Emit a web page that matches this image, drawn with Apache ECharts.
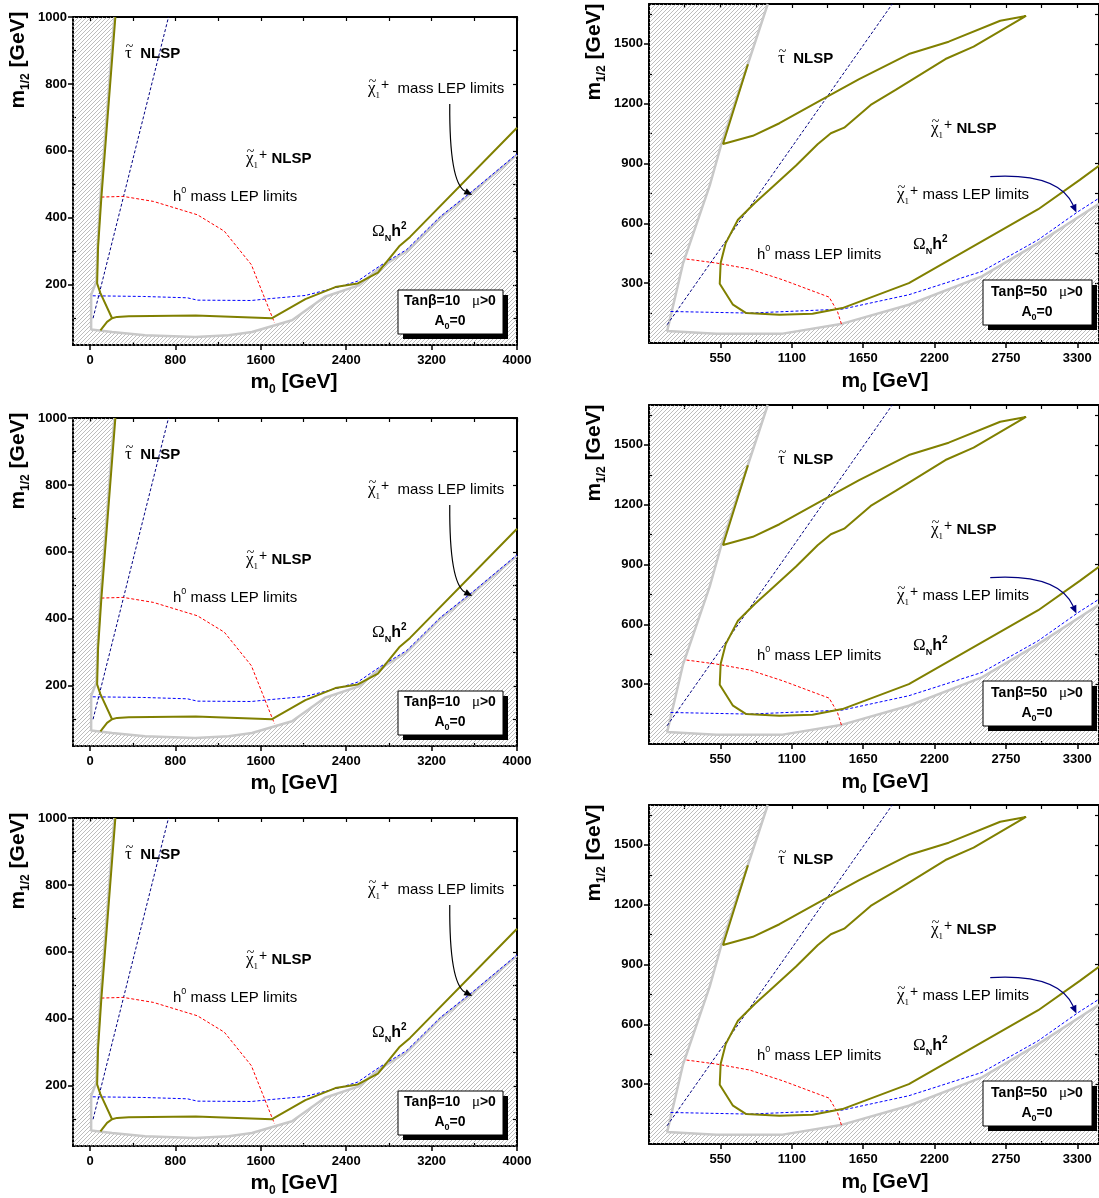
<!DOCTYPE html>
<html><head><meta charset="utf-8">
<script src="https://cdn.jsdelivr.net/npm/echarts@6/dist/echarts.min.js"></script>
<style>html,body{margin:0;padding:0;background:#fff}#c{width:1099px;height:1198px}</style>
</head><body><div id="c"></div>
<script>
// ---------- tick labels ----------
const L_m0_ticks = [0, 800, 1600, 2400, 3200, 4000];
const L_m0_minor = [400, 1200, 2000, 2800, 3600];
const L_m12_ticks = [200, 400, 600, 800, 1000];
const L_m12_minor = [100, 300, 500, 700, 900];
const R_m0_ticks = [550, 1100, 1650, 2200, 2750, 3300];
const R_m0_minor = [275, 825, 1375, 1925, 2475, 3025];
const R_m12_ticks = [300, 600, 900, 1200, 1500];
const R_m12_minor = [150, 450, 750, 1050, 1350, 1650];

// ---------- tanβ=10 (left panels) [m0, m1/2] ----------
const L_excl_boundary = [[228,1000],[97,462],[70,313],[60,210],[10,170],[10,66],[206,59],[515,49],[984,44],[1299,49],[1517,59],[1892,94],[2201,164],[2517,198],[2713,250],[2966,300],[3282,400],[3598,480],[4000,588]];
const L_omega_upper = [[237,1000],[106,462],[75,313],[66,204],[97,175],[206,100]];
const L_omega_lower = [[97,64],[159,89],[206,100],[253,104],[362,106],[378,103],[990,108],[1705,100],[2017,157],[2298,193],[2508,204],[2697,236],[2896,315],[2998,343],[4000,669]];
const L_chargino_lep = [[25,167],[500,165],[911,161],[1006,154],[1511,153],[1701,159],[2017,168],[2334,194],[2508,211],[2713,256],[2966,305],[3282,404],[3598,484],[4000,591]];
const L_stau_line = [[28,100],[735,1000]];
const L_higgs_lep = [[106,462],[310,464],[594,449],[1006,409],[1258,360],[1511,260],[1727,87]];

// ---------- tanβ=50 (right panels) ----------
const R_excl_boundary = [[915,1700],[558,999],[468,790],[263,401],[140,60],[519,47],[1030,47],[1490,97],[2002,192],[2565,334],[2999,501],[3467,698]];
const R_omega = [[762,1398],[570,998],[800,1039],[1005,1102],[1363,1232],[1619,1323],[2002,1449],[2309,1511],[2706,1616],[2905,1640],[2501,1486],[2284,1424],[1900,1269],[1708,1194],[1504,1080],[1401,1052],[1299,997],[1133,890],[928,768],[813,701],[685,618],[591,501],[552,401],[545,297],[647,192],[749,150],[1005,142],[1260,147],[1490,175],[2002,300],[2999,671],[3319,818],[3500,905]];
const R_chargino_lep = [[166,158],[775,150],[1490,170],[2002,242],[2565,359],[2999,518],[3306,659],[3500,740]];
const R_stau_line = [[140,92],[1874,1700]];
const R_higgs_lep = [[289,421],[519,401],[775,371],[1030,317],[1388,230],[1452,158],[1486,88]];

// ---------- helpers ----------
const SANS = '"Liberation Sans", Arial, sans-serif';
const SERIF = '"Liberation Serif", "DejaVu Serif", serif';
const ROW_OFF = [0, 401, 801];
const OLIVE = '#808000', GRAYB = '#c8c8c8', BLUE = '#0000ff', NAVY = '#000080', RED = '#ff0000';

const pc = document.createElement('canvas');
pc.width = 4; pc.height = 4;
(function(){ const c = pc.getContext('2d'); c.strokeStyle = '#a0a0a0'; c.lineWidth = 0.7;
  c.beginPath(); c.moveTo(0,4); c.lineTo(4,0); c.moveTo(-1,1); c.lineTo(1,-1); c.moveTo(3,5); c.lineTo(5,3); c.stroke(); })();
const HATCH = {image: pc, repeat: 'repeat'};

const rich = {
  b: {fontFamily: SANS, fontWeight: 'bold', fontSize: 15, lineHeight: 22, verticalAlign: 'middle', fill: '#000'},
  n: {fontFamily: SANS, fontSize: 15, lineHeight: 22, verticalAlign: 'middle', fill: '#000'},
  g: {fontFamily: SERIF, fontSize: 17, lineHeight: 22, verticalAlign: 'middle', fill: '#000'},
  sub: {fontFamily: SERIF, fontSize: 9, lineHeight: 9, verticalAlign: 'bottom', fill: '#000'},
  subb: {fontFamily: SANS, fontWeight: 'bold', fontSize: 9, lineHeight: 9, verticalAlign: 'bottom', fill: '#000'},
  sup: {fontFamily: SANS, fontSize: 14, lineHeight: 14, verticalAlign: 'top', fill: '#000', padding: [0, 0, 0, 1]},
  supb: {fontFamily: SANS, fontWeight: 'bold', fontSize: 10, lineHeight: 10, verticalAlign: 'top', fill: '#000'},
  supn: {fontFamily: SANS, fontSize: 9, lineHeight: 10, verticalAlign: 'top', fill: '#000'},
  bh: {fontFamily: SANS, fontWeight: 'bold', fontSize: 16, lineHeight: 22, verticalAlign: 'middle', fill: '#000'},
  mu: {fontFamily: SERIF, fontSize: 15, lineHeight: 20, verticalAlign: 'middle', fill: '#000'},
  bx: {fontFamily: SANS, fontWeight: 'bold', fontSize: 14, lineHeight: 20, verticalAlign: 'middle', fill: '#000'},
  T: {fontFamily: SANS, fontWeight: 'bold', fontSize: 21, lineHeight: 28, verticalAlign: 'middle', fill: '#000'},
  Ts: {fontFamily: SANS, fontWeight: 'bold', fontSize: 12, lineHeight: 12, verticalAlign: 'bottom', fill: '#000'},
  tl: {fontFamily: SERIF, fontSize: 14, lineHeight: 14, verticalAlign: 'middle', fill: '#000'}
};

const grids = [], xAxes = [], yAxes = [], series = [], graphics = [];

function txt(x, y, text, align, rot) {
  graphics.push({type: 'text', x, y, rotation: rot || 0, z: 100,
    style: {text, rich, align: align || 'left', textAlign: align || 'left', verticalAlign: 'middle', textVerticalAlign: 'middle'}});
}
function tilde(x, y) {   // tilde accent over a leading Greek letter
  graphics.push({type: 'text', x: x + 4.5, y: y - 7, z: 101,
    style: {text: '{tl|~}', rich, align: 'center', textAlign: 'center', verticalAlign: 'middle', textVerticalAlign: 'middle'}});
}
function box(x, y, w, h) {
  graphics.push({type: 'rect', z: 99, shape: {x: x + 5, y: y + 5, width: w, height: h}, style: {fill: '#000'}});
  graphics.push({type: 'rect', z: 99, shape: {x, y, width: w, height: h}, style: {fill: '#fff', stroke: '#000', lineWidth: 1}});
}

function axisSet(g, isX, min, max, major, minor, dotted) {
  const arr = isX ? xAxes : yAxes;
  const idx = arr.length;
  const pos = isX ? ['bottom', 'top'] : ['left', 'right'];
  arr.push({gridIndex: g, type: 'value', min, max, position: pos[0],
    axisLine: {show: true, onZero: false, lineStyle: {color: '#000', width: 2, type: dotted ? [2, 2] : 'solid'}},
    axisTick: {show: true, inside: false, length: 5, customValues: major, lineStyle: {color: '#000', width: 1.5}},
    axisLabel: {show: true, customValues: major, formatter: v => String(v), margin: isX ? 9 : 6,
      fontFamily: SANS, fontWeight: 'bold', fontSize: 13, color: '#000'},
    splitLine: {show: false}, minorTick: {show: false}});
  arr.push({gridIndex: g, type: 'value', min, max, position: pos[0],
    axisLine: {show: false, onZero: false}, axisLabel: {show: false},
    axisTick: {show: true, inside: true, length: 3, customValues: minor, lineStyle: {color: '#000', width: 1.2}},
    splitLine: {show: false}});
  arr.push({gridIndex: g, type: 'value', min, max, position: pos[1],
    axisLine: {show: true, onZero: false, lineStyle: {color: '#000', width: 2}}, axisLabel: {show: false},
    axisTick: {show: true, inside: true, length: 4, customValues: major.concat(minor), lineStyle: {color: '#000', width: 1.2}},
    splitLine: {show: false}});
  return idx;
}

function lineS(xi, yi, data, color, width, type, z) {
  return {type: 'line', xAxisIndex: xi, yAxisIndex: yi, data, symbol: 'none', showSymbol: false, silent: true,
    animation: false, z: z || 3, lineStyle: {color, width, type: type || 'solid'}};
}
function hatchS(xi, yi, poly) {
  return {type: 'custom', xAxisIndex: xi, yAxisIndex: yi, data: [[1000, 500]], silent: true, z: 1, clip: true,
    renderItem: (p, api) => ({type: 'polygon', shape: {points: poly.map(pt => api.coord(pt))}, style: {fill: HATCH, stroke: null}})};
}
function arrowS(xi, yi, s, c, e, color) {
  return {type: 'custom', xAxisIndex: xi, yAxisIndex: yi, data: [[1000, 500]], silent: true, z: 5, clip: false,
    renderItem: (p, api) => {
      const S = api.coord(s), C = api.coord(c), E = api.coord(e);
      const a = Math.atan2(E[1] - C[1], E[0] - C[0]);
      const L = 8, W = 3.5;
      const bx = E[0] - L * Math.cos(a), by = E[1] - L * Math.sin(a);
      const p1 = [bx + W * Math.sin(a), by - W * Math.cos(a)], p2 = [bx - W * Math.sin(a), by + W * Math.cos(a)];
      return {type: 'group', children: [
        {type: 'bezierCurve', shape: {x1: S[0], y1: S[1], cpx1: C[0], cpy1: C[1], x2: bx, y2: by}, style: {stroke: color, lineWidth: 1.2, fill: null}},
        {type: 'polygon', shape: {points: [E, p1, p2]}, style: {fill: color}}
      ]};
    }};
}

const CHI = '{g|\u03C7}{sub|1}{sup|+}';
const TAU = '{g|\u03C4}';

function leftPanel(row) {
  const o = ROW_OFF[row];
  const g = grids.length;
  grids.push({left: 73, top: 17 + o, width: 444, height: 328});
  const xi = axisSet(g, true, -160, 4000, L_m0_ticks, L_m0_minor, true);
  const yi = axisSet(g, false, 20, 1000, L_m12_ticks, L_m12_minor, true);
  series.push(hatchS(xi, yi, L_excl_boundary.concat([[4000, 20], [-160, 20], [-160, 1000]])));
  series.push(lineS(xi, yi, L_excl_boundary, GRAYB, 2.5, 'solid', 2));
  series.push(lineS(xi, yi, L_chargino_lep, BLUE, 1, [3, 2]));
  series.push(lineS(xi, yi, L_stau_line, NAVY, 1, [3, 2]));
  series.push(lineS(xi, yi, L_higgs_lep, RED, 1, [3, 2]));
  series.push(lineS(xi, yi, L_omega_upper, OLIVE, 2));
  series.push(lineS(xi, yi, L_omega_lower, OLIVE, 2));
  series.push(arrowS(xi, yi, [3370, 740], [3365, 505], [3580, 468], '#000'));
  txt(125, 54 + o, TAU + '{b|  NLSP}'); tilde(125, 54 + o);
  txt(246, 159 + o, CHI + '{b| NLSP}'); tilde(246, 159 + o);
  txt(173, 197 + o, '{n|h}{supn|0}{n| mass LEP limits}');
  txt(368, 89 + o, CHI + '{n|  mass LEP limits}'); tilde(368, 89 + o);
  txt(372, 232 + o, '{g|\u03A9}{subb|N}{bh|h}{supb|2}');
  box(398, 290 + o, 105, 44);
  txt(450, 301 + o, '{bx|Tan\u03B2=10}{bx|   }{mu|\u03BC}{bx|>0}', 'center');
  txt(450, 321 + o, '{bx|A}{subb|0}{bx|=0}', 'center');
  txt(294, 382 + o, '{T|m}{Ts|0}{T| [GeV]}', 'center');
  txt(18, 60 + o, '{T|m}{Ts|1/2}{T| [GeV]}', 'center', Math.PI / 2);
}

function rightPanel(row) {
  const o = ROW_OFF[row];
  const g = grids.length;
  grids.push({left: 649, top: 4 + o, width: 452, height: 339});
  const xi = axisSet(g, true, 0, 3467, R_m0_ticks, R_m0_minor, false);
  const yi = axisSet(g, false, 0, 1700, R_m12_ticks, R_m12_minor, false);
  series.push(hatchS(xi, yi, R_excl_boundary.concat([[3467, 0], [0, 0], [0, 1700]])));
  series.push(lineS(xi, yi, R_excl_boundary, GRAYB, 2.5, 'solid', 2));
  series.push(lineS(xi, yi, R_chargino_lep, BLUE, 1, [3, 2]));
  series.push(lineS(xi, yi, R_stau_line, NAVY, 1, [3, 2]));
  series.push(lineS(xi, yi, R_higgs_lep, RED, 1, [3, 2]));
  series.push(lineS(xi, yi, R_omega, OLIVE, 2));
  series.push(arrowS(xi, yi, [2629, 834], [3153, 855], [3293, 655], NAVY));
  txt(778, 59 + o, TAU + '{b|  NLSP}'); tilde(778, 59 + o);
  txt(931, 129 + o, CHI + '{b| NLSP}'); tilde(931, 129 + o);
  txt(897, 195 + o, CHI + '{n| mass LEP limits}'); tilde(897, 195 + o);
  txt(757, 255 + o, '{n|h}{supn|0}{n| mass LEP limits}');
  txt(913, 245 + o, '{g|\u03A9}{subb|N}{bh|h}{supb|2}');
  box(983, 280 + o, 109, 45);
  txt(1037, 292 + o, '{bx|Tan\u03B2=50}{bx|   }{mu|\u03BC}{bx|>0}', 'center');
  txt(1037, 312 + o, '{bx|A}{subb|0}{bx|=0}', 'center');
  txt(885, 381 + o, '{T|m}{Ts|0}{T| [GeV]}', 'center');
  txt(594, 52 + o, '{T|m}{Ts|1/2}{T| [GeV]}', 'center', Math.PI / 2);
}

for (let r = 0; r < 3; r++) { leftPanel(r); rightPanel(r); }

const chart = echarts.init(document.getElementById('c'), null, {renderer: 'canvas'});
chart.setOption({
  animation: false,
  backgroundColor: '#fff',
  grid: grids, xAxis: xAxes, yAxis: yAxes, series, graphic: graphics
});
</script></body></html>
